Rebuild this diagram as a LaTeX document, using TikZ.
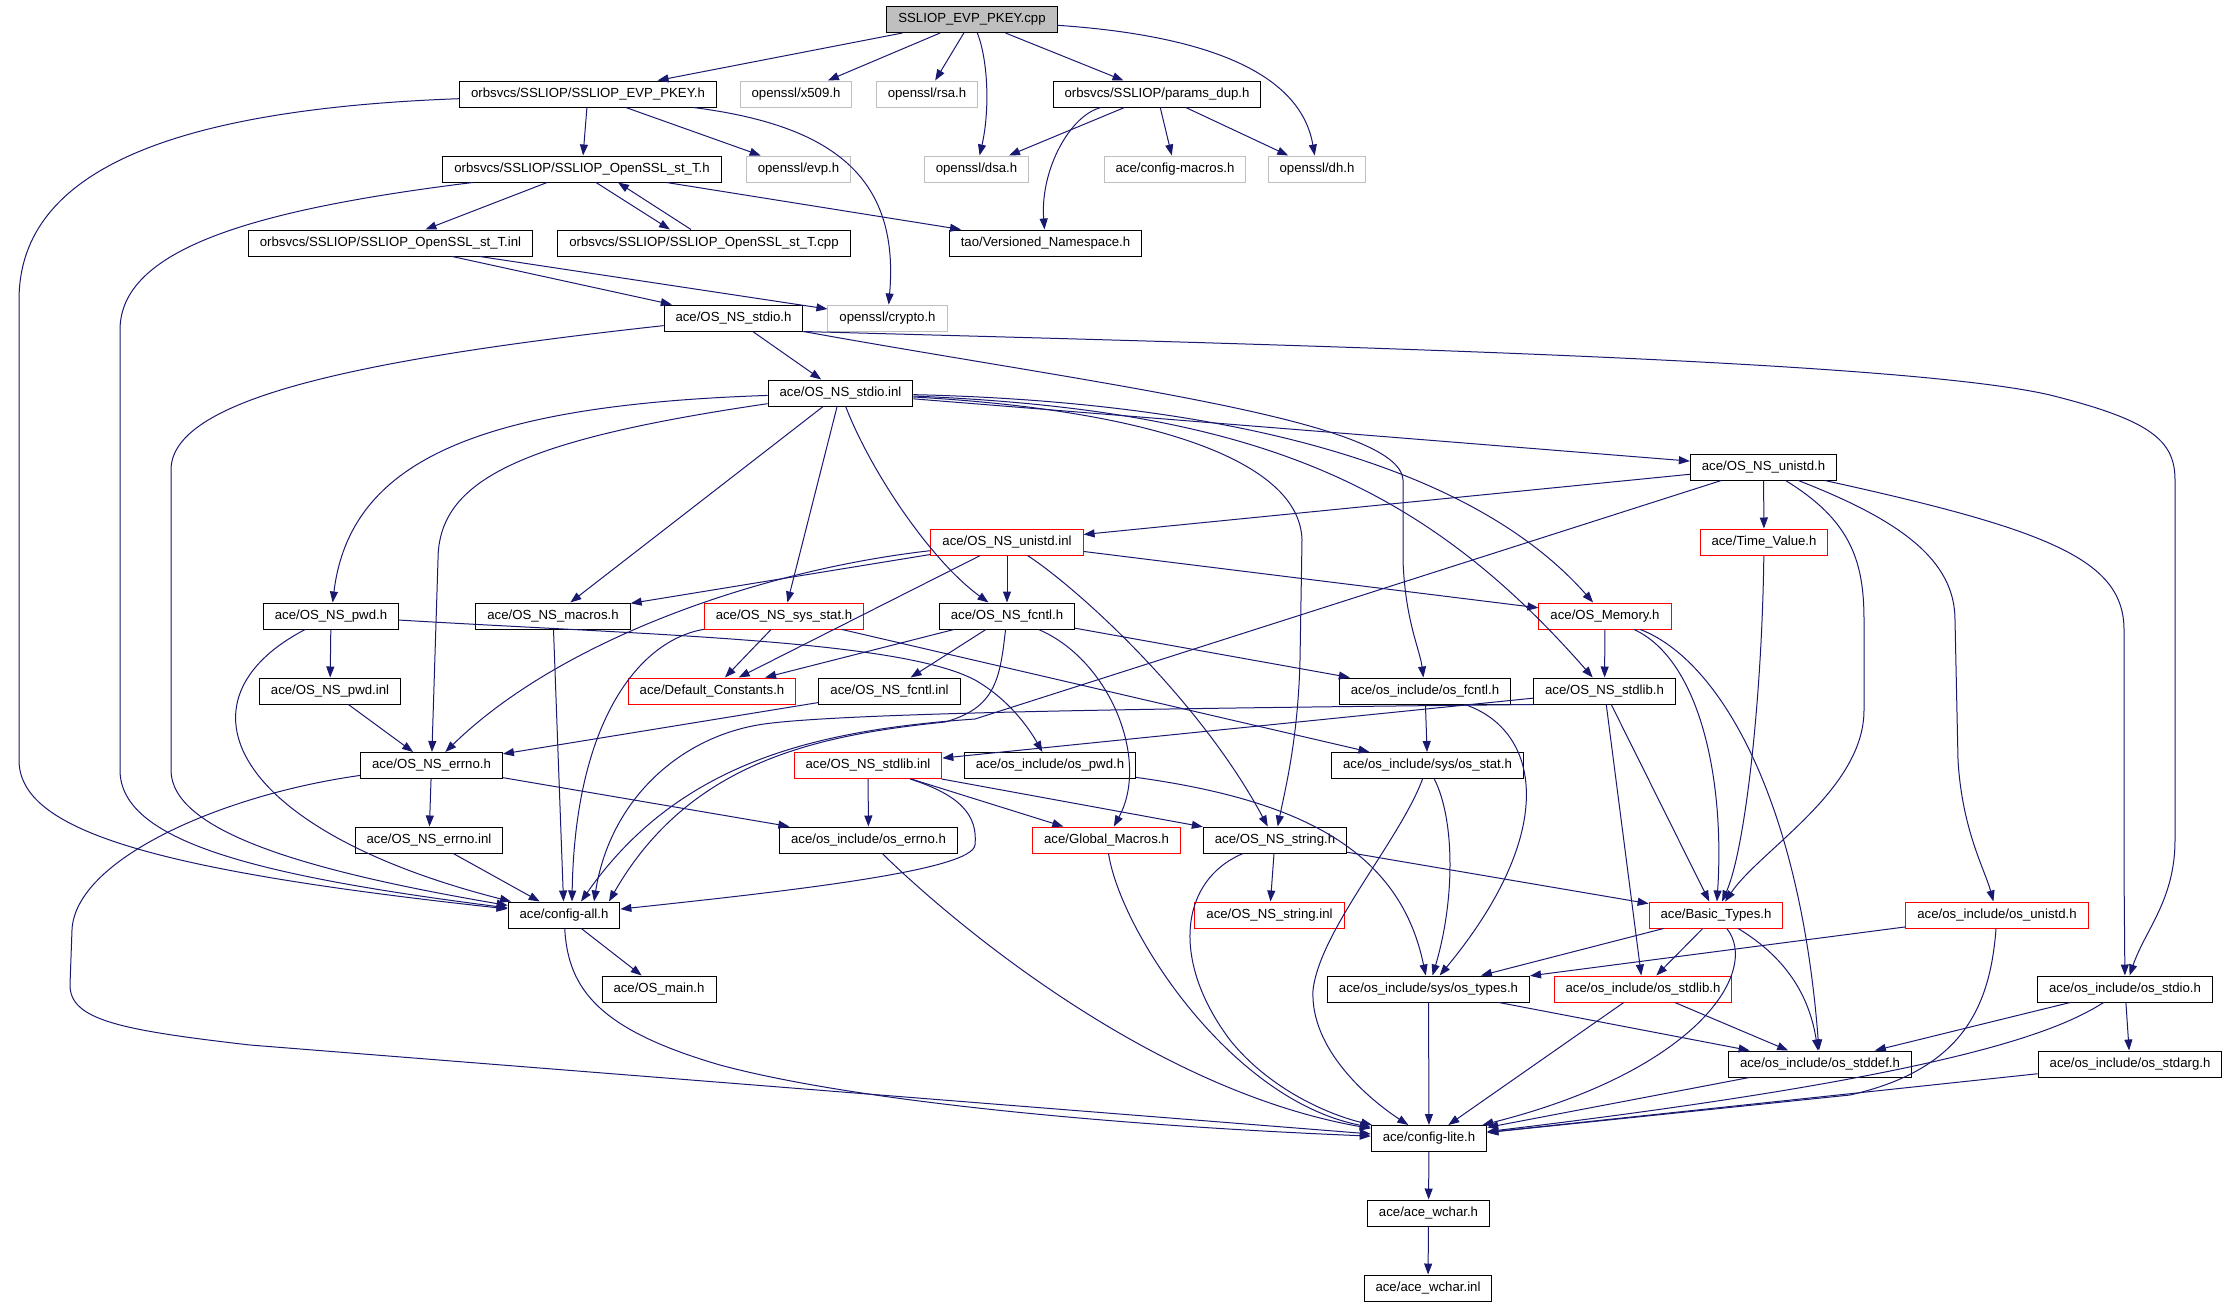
\documentclass[tikz,border=0pt]{standalone}
\usepackage{fontspec}
\setmainfont{Liberation Sans}
\usetikzlibrary{arrows.meta}
\definecolor{edgeblue}{RGB}{25,25,112}
\definecolor{extgray}{RGB}{191,191,191}

\begin{document}
\begin{tikzpicture}[->,>={Triangle[length=11pt,width=8pt]},x=1pt,y=-1pt,
    every edge/.style={draw=edgeblue,line width=1pt},
    dep/.style={draw=edgeblue,line width=1pt},
    file node/.style={rectangle,draw=black,fill=white,text=black,line width=1pt,
      minimum height=26pt,inner xsep=11.5pt,font=\fontsize{13.2}{15}\selectfont},
    red node/.style={file node,draw=red},
    ext node/.style={file node,draw=extgray},
    root node/.style={file node,fill=extgray}]

    \useasboundingbox (0,0) rectangle (2227,1307);

    % nodes, row by row
    \node[root node] (root) at (972,19.5) {SSLIOP\_EVP\_PKEY.cpp};

    \node[file node] (evppkey) at (588,94) {orbsvcs/SSLIOP/SSLIOP\_EVP\_PKEY.h};
    \node[ext node] (x509) at (796,94) {openssl/x509.h};
    \node[ext node] (rsa) at (927,94) {openssl/rsa.h};
    \node[file node] (paramsdup) at (1157,94) {orbsvcs/SSLIOP/params\_dup.h};

    \node[file node] (ssltH) at (582,169) {orbsvcs/SSLIOP/SSLIOP\_OpenSSL\_st\_T.h};
    \node[ext node] (evp) at (798.5,169) {openssl/evp.h};
    \node[ext node] (dsa) at (976.5,169) {openssl/dsa.h};
    \node[ext node] (cfgmacros) at (1175,169) {ace/config-macros.h};
    \node[ext node] (dh) at (1317,169) {openssl/dh.h};

    \node[file node] (ssltInl) at (390.5,243) {orbsvcs/SSLIOP/SSLIOP\_OpenSSL\_st\_T.inl};
    \node[file node] (ssltCpp) at (704,243) {orbsvcs/SSLIOP/SSLIOP\_OpenSSL\_st\_T.cpp};
    \node[file node] (versioned) at (1045.5,243) {tao/Versioned\_Namespace.h};

    \node[file node] (stdioH) at (733.5,318) {ace/OS\_NS\_stdio.h};
    \node[ext node] (crypto) at (887.5,318) {openssl/crypto.h};

    \node[file node] (stdioInl) at (840.5,393) {ace/OS\_NS\_stdio.inl};

    \node[file node] (unistdH) at (1763.5,467) {ace/OS\_NS\_unistd.h};

    \node[red node] (unistdInl) at (1007,542) {ace/OS\_NS\_unistd.inl};
    \node[red node] (timevalue) at (1764,542) {ace/Time\_Value.h};

    \node[file node] (pwdH) at (331,616) {ace/OS\_NS\_pwd.h};
    \node[file node] (macros) at (553,616) {ace/OS\_NS\_macros.h};
    \node[red node] (sysstat) at (784,616) {ace/OS\_NS\_sys\_stat.h};
    \node[file node] (fcntlH) at (1007,616) {ace/OS\_NS\_fcntl.h};
    \node[red node] (memory) at (1605,616) {ace/OS\_Memory.h};

    \node[file node] (pwdInl) at (330,691) {ace/OS\_NS\_pwd.inl};
    \node[red node] (defconst) at (712,691) {ace/Default\_Constants.h};
    \node[file node] (fcntlInl) at (889.5,691) {ace/OS\_NS\_fcntl.inl};
    \node[file node] (osfcntl) at (1425,691) {ace/os\_include/os\_fcntl.h};
    \node[file node] (stdlibH) at (1604.5,691) {ace/OS\_NS\_stdlib.h};

    \node[file node] (errnoH) at (431.5,765.5) {ace/OS\_NS\_errno.h};
    \node[red node] (stdlibInl) at (868,765.5) {ace/OS\_NS\_stdlib.inl};
    \node[file node] (ospwd) at (1050,765.5) {ace/os\_include/os\_pwd.h};
    \node[file node] (osstat) at (1427.5,765.5) {ace/os\_include/sys/os\_stat.h};

    \node[file node] (errnoInl) at (429,840) {ace/OS\_NS\_errno.inl};
    \node[file node] (oserrno) at (868.5,840) {ace/os\_include/os\_errno.h};
    \node[red node] (globmacros) at (1106.5,840) {ace/Global\_Macros.h};
    \node[file node] (stringH) at (1275,840) {ace/OS\_NS\_string.h};

    \node[file node] (cfgall) at (564,915) {ace/config-all.h};
    \node[red node] (stringInl) at (1269.5,915) {ace/OS\_NS\_string.inl};
    \node[red node] (basictypes) at (1716,915) {ace/Basic\_Types.h};
    \node[red node] (osunistd) at (1997,915) {ace/os\_include/os\_unistd.h};

    \node[file node] (osmain) at (659,989) {ace/OS\_main.h};
    \node[file node] (ostypes) at (1428.5,989) {ace/os\_include/sys/os\_types.h};
    \node[red node] (osstdlib) at (1643,989) {ace/os\_include/os\_stdlib.h};
    \node[file node] (osstdio) at (2125,989) {ace/os\_include/os\_stdio.h};

    \node[file node] (osstddef) at (1820,1064) {ace/os\_include/os\_stddef.h};
    \node[file node] (osstdarg) at (2130,1064) {ace/os\_include/os\_stdarg.h};

    \node[file node] (cfglite) at (1429,1138.5) {ace/config-lite.h};
    \node[file node] (wcharH) at (1428.5,1213) {ace/ace\_wchar.h};
    \node[file node] (wcharInl) at (1428,1288) {ace/ace\_wchar.inl};

    % top part
    \path (root) edge (evppkey) edge (x509) edge (rsa) edge (paramsdup);
    \draw[dep] (root) .. controls (988,60) and (990,110) .. (dsa);
    \draw[dep] (root) .. controls (1200,35) and (1300,70) .. (dh);

    \path (evppkey) edge (ssltH) edge (evp);
    \draw[dep] (evppkey) .. controls (830,125) and (900,175) .. (crypto);
    \draw[dep] (evppkey) .. controls (150,110) and (19,180) .. (19,300) -- (19,760)
        .. controls (19,830) and (150,870) .. (cfgall);

    \path (paramsdup) edge (dsa) edge (cfgmacros) edge (dh);
    \draw[dep] (paramsdup) .. controls (1070,115) and (1040,170) .. (versioned);

    \path (ssltH) edge (ssltInl) edge (versioned);
    \draw[dep] ([xshift=14pt]ssltH.south) -- ([xshift=-34pt]ssltCpp.north);
    \draw[dep] ([xshift=-13pt]ssltCpp.north) -- ([xshift=36pt]ssltH.south);
    \draw[dep] (ssltH) .. controls (250,210) and (120,250) .. (120,330) -- (120,770)
        .. controls (120,840) and (250,875) .. (cfgall);

    \path (ssltInl) edge (stdioH) edge (crypto);

    % OS_NS_stdio
    \path (stdioH) edge (stdioInl);
    \draw[dep] (stdioH) .. controls (350,360) and (171,400) .. (171,470) -- (171,770)
        .. controls (171,830) and (300,870) .. (cfgall);
    \draw[dep] (stdioH.south east) .. controls (1300,345) and (1900,360) .. (2050,395)
        .. controls (2150,420) and (2175,440) .. (2175,480) -- (2175,840)
        .. controls (2175,900) and (2145,930) .. (osstdio);
    \draw[dep] (stdioH.south east) .. controls (1100,385) and (1400,420) .. (1403,480) -- (1403,560)
        .. controls (1405,620) and (1420,650) .. (osfcntl);

    \path (stdioInl) edge (macros) edge (sysstat) edge (unistdH);
    \draw[dep] (stdioInl) .. controls (480,405) and (350,460) .. (pwdH);
    \draw[dep] (stdioInl) .. controls (520,440) and (438,480) .. (438,560) -- (errnoH);
    \draw[dep] (stdioInl) .. controls (870,470) and (930,560) .. (fcntlH);
    \draw[dep] (stdioInl) .. controls (1150,410) and (1300,460) .. (1302,540) -- (1300,660)
        .. controls (1298,740) and (1285,790) .. (stringH);
    \draw[dep] (stdioInl) .. controls (1150,400) and (1450,440) .. (memory);
    \draw[dep] (stdioInl) .. controls (1250,410) and (1420,480) .. (stdlibH);

    % OS_NS_unistd
    \path (unistdH) edge (unistdInl) edge (timevalue);
    \draw[dep] (unistdH) -- (975,719) .. controls (820,730) and (680,760) .. ([xshift=17pt]cfgall.north);
    \draw[dep] (unistdH) .. controls (1850,520) and (1864,560) .. (1864,620) -- (1864,710)
        .. controls (1864,790) and (1760,850) .. (basictypes);
    \draw[dep] (unistdH) .. controls (1900,520) and (1955,560) .. (1955,620) -- (1958,760)
        .. controls (1962,830) and (1985,870) .. (osunistd);
    \draw[dep] (unistdH) .. controls (2050,530) and (2124,560) .. (2124,630) -- (2124,870) -- (osstdio);

    \path (unistdInl) edge (macros) edge (fcntlH) edge (defconst) edge (memory);
    \draw[dep] (unistdInl) .. controls (760,570) and (560,640) .. (errnoH);
    \draw[dep] (unistdInl) .. controls (1080,590) and (1200,700) .. (stringH);

    \draw[dep] (timevalue) .. controls (1762,700) and (1745,850) .. (basictypes);

    % middle rows
    \path (pwdH) edge (pwdInl);
    \draw[dep] (pwdH) .. controls (170,700) and (230,830) .. (cfgall);
    \draw[dep] (pwdH) .. controls (650,635) and (900,640) .. (975,680)
        .. controls (1010,700) and (1030,730) .. (ospwd);
    \path (pwdInl) edge (errnoH);
    \path (macros) edge (cfgall);

    \path (sysstat) edge (defconst) edge (osstat);
    \draw[dep] (sysstat) .. controls (640,640) and (575,720) .. ([xshift=8pt]cfgall.north);

    \path (fcntlH) edge (defconst) edge (fcntlInl) edge (osfcntl);
    \draw[dep] (fcntlH) .. controls (1000,680) and (995,708) .. (945,722)
        .. controls (820,735) and (690,760) .. ([xshift=45pt]cfgall.north);
    \draw[dep] (fcntlH) .. controls (1110,660) and (1150,760) .. (globmacros);

    \path (memory) edge (stdlibH);
    \draw[dep] (memory) .. controls (1700,660) and (1725,780) .. (basictypes);
    \draw[dep] (memory) .. controls (1720,660) and (1800,800) .. (osstddef);

    \path (fcntlInl) edge (errnoH);

    \path (osfcntl) edge (osstat);
    \draw[dep] (osfcntl) .. controls (1540,730) and (1560,830) .. (ostypes);

    \path (stdlibH) edge (stdlibInl) edge (basictypes) edge (osstdlib);
    \draw[dep] (stdlibH.south west) .. controls (1200,708) and (850,712) .. (764,724)
        .. controls (680,736) and (610,800) .. ([xshift=30pt]cfgall.north);

    \path (errnoH) edge (errnoInl) edge (oserrno);
    \draw[dep] (errnoH) .. controls (220,795) and (75,860) .. (72,930) -- (70,985)
        .. controls (70,1020) and (120,1030) .. (250,1045) -- (cfglite);

    \path (stdlibInl) edge (oserrno) edge (globmacros) edge (stringH);
    \draw[dep] (stdlibInl) .. controls (960,795) and (978,815) .. (975,845)
        .. controls (972,870) and (800,890) .. (cfgall);

    \draw[dep] (ospwd) .. controls (1300,800) and (1400,850) .. (ostypes);
    \draw[dep] (osstat) .. controls (1455,820) and (1455,900) .. (ostypes);
    \draw[dep] (osstat) .. controls (1400,840) and (1320,930) .. (1313,990)
        .. controls (1310,1050) and (1370,1100) .. (cfglite);

    \path (errnoInl) edge (cfgall);
    \draw[dep] (oserrno) .. controls (950,920) and (1150,1090) .. (cfglite);
    \draw[dep] (globmacros) .. controls (1120,930) and (1230,1100) .. (cfglite);

    \path (stringH) edge (stringInl) edge (basictypes);
    \draw[dep] (stringH) .. controls (1180,880) and (1170,960) .. (1230,1040)
        .. controls (1270,1090) and (1330,1115) .. (cfglite);

    % bottom rows
    \path (cfgall) edge (osmain);
    \draw[dep] (cfgall) .. controls (568,990) and (600,1030) .. (720,1065)
        .. controls (850,1100) and (1100,1125) .. (cfglite);

    \path (basictypes) edge (ostypes) edge (osstdlib);
    \draw[dep] (basictypes) .. controls (1760,970) and (1700,1070) .. (cfglite);
    \draw[dep] (basictypes) .. controls (1790,960) and (1810,1000) .. (osstddef);

    \path (osunistd) edge (ostypes);
    \draw[dep] (osunistd) .. controls (1990,1010) and (1960,1070) .. (1850,1095) -- (cfglite);

    \path (ostypes) edge (cfglite) edge (osstddef);
    \path (osstdlib) edge (cfglite) edge (osstddef);
    \path (osstdio) edge (osstddef) edge (osstdarg);
    \draw[dep] (osstdio) .. controls (2060,1030) and (1960,1075) .. (cfglite);
    \path (osstddef) edge (cfglite);
    \path (osstdarg) edge (cfglite);

    \path (cfglite) edge (wcharH);
    \path (wcharH) edge (wcharInl);

\end{tikzpicture}
\end{document}
